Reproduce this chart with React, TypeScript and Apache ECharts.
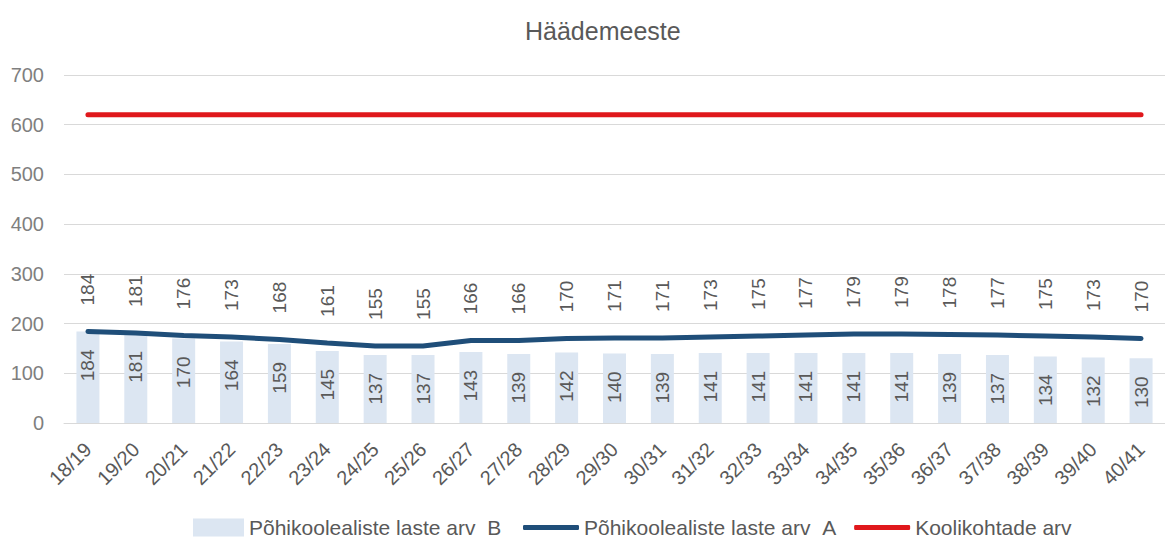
import React, { useEffect, useRef } from "react";
import * as echarts from "echarts";

const categories = ["18/19","19/20","20/21","21/22","22/23","23/24","24/25","25/26","26/27","27/28","28/29","29/30","30/31","31/32","32/33","33/34","34/35","35/36","36/37","37/38","38/39","39/40","40/41"];
const seriesB = [184,181,170,164,159,145,137,137,143,139,142,140,139,141,141,141,141,141,139,137,134,132,130];
const seriesA = [184,181,176,173,168,161,155,155,166,166,170,171,171,173,175,177,179,179,178,177,175,173,170];
const capacity = [620,620,620,620,620,620,620,620,620,620,620,620,620,620,620,620,620,620,620,620,620,620,620];
const names = ["Põhikoolealiste laste arv_B", "Põhikoolealiste laste arv_A", "Koolikohtade arv"];
const yTicks = { min: 0, max: 700, interval: 100 };

const FONT = "'Liberation Sans', Arial, sans-serif";
const BLUE = "#1f4e79";
const RED = "#e0181c";

export default function App() {
  const ref = useRef<HTMLDivElement>(null);
  useEffect(() => {
    document.body.style.margin = "0";
    const chart = echarts.init(ref.current!, null, { renderer: "svg" });
    const legendText = { fontFamily: FONT, fontSize: 21, color: "#595959" };
    chart.setOption({
      animation: false,
      backgroundColor: "#ffffff",
      textStyle: { fontFamily: FONT },
      title: {
        text: "Häädemeeste",
        left: 520,
        top: 13,
        textStyle: { fontFamily: FONT, fontSize: 25, fontWeight: "normal", color: "#595959" },
      },
      legend: [
        {
          left: 193,
          top: 517,
          padding: 0,
          itemWidth: 51,
          itemHeight: 18,
          itemGap: 10,
          textStyle: legendText,
          data: [{ name: names[0], icon: "rect" }],
        },
        {
          left: 523,
          top: 517,
          padding: 0,
          itemWidth: 56,
          itemHeight: 5,
          itemGap: 18,
          textStyle: legendText,
          data: [
            { name: names[1], icon: "roundRect", itemStyle: { color: BLUE } },
            { name: names[2], icon: "roundRect", itemStyle: { color: RED } },
          ],
        },
      ],
      grid: { left: 64, top: 75, width: 1119, height: 348, containLabel: false },
      xAxis: {
        type: "category",
        data: categories,
        boundaryGap: true,
        axisLine: { show: true, lineStyle: { color: "#d9d9d9" } },
        axisTick: { show: false },
        axisLabel: {
          rotate: 45,
          margin: 23,
          interval: 0,
          fontFamily: FONT,
          fontSize: 20,
          color: "#595959",
        },
      },
      yAxis: {
        type: "value",
        min: yTicks.min,
        max: yTicks.max,
        interval: yTicks.interval,
        axisLine: { show: false },
        axisTick: { show: false },
        splitLine: { lineStyle: { color: "#d9d9d9", width: 1 } },
        axisLabel: { margin: 20, fontFamily: FONT, fontSize: 20, color: "#7f7f7f" },
      },
      series: [
        {
          name: names[0],
          type: "bar",
          data: seriesB,
          barWidth: 23,
          itemStyle: { color: "#dce6f2" },
          label: {
            show: true,
            position: "insideTop",
            distance: 18,
            rotate: 90,
            align: "right",
            verticalAlign: "middle",
            fontFamily: FONT,
            fontSize: 19,
            color: "#595959",
          },
          z: 1,
        },
        {
          name: names[1],
          type: "line",
          data: seriesA,
          symbol: "circle",
          symbolSize: 0.1,
          showSymbol: true,
          lineStyle: { color: BLUE, width: 5, cap: "round" },
          itemStyle: { color: BLUE },
          label: {
            show: true,
            position: "top",
            distance: 26,
            rotate: 90,
            align: "left",
            verticalAlign: "middle",
            fontFamily: FONT,
            fontSize: 19,
            color: "#595959",
          },
          labelLayout: { hideOverlap: false },
          z: 3,
        },
        {
          name: names[2],
          type: "line",
          data: capacity,
          symbol: "none",
          lineStyle: { color: RED, width: 5, cap: "round" },
          itemStyle: { color: RED },
          z: 3,
        },
      ],
    });
    return () => chart.dispose();
  }, []);
  return (
    <div
      ref={ref}
      style={{ position: "fixed", left: 0, top: 0, width: 1165, height: 537 }}
    />
  );
}
